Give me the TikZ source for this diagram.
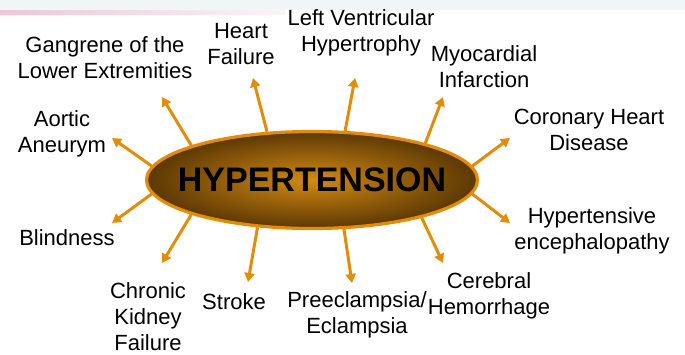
\documentclass[tikz,border=0pt]{standalone}
\usepackage{fontspec}
\setmainfont{Liberation Sans}
\usetikzlibrary{positioning, shapes.geometric, arrows.meta}
\definecolor{hyporange}{RGB}{226,140,8}
\definecolor{hyplight}{RGB}{212,138,18}
\definecolor{hypdark}{RGB}{92,56,4}
\definecolor{bandgrey}{RGB}{240,246,247}
\definecolor{bandpink}{RGB}{238,198,210}
\tikzset{hub/.style={ellipse, draw=hyporange, line width=1.6pt, inner color=hyplight, outer color=hypdark, inner sep=0pt, minimum width=165.5pt, minimum height=48.5pt},
hubtext/.style={inner sep=0pt, font=\fontsize{17}{20}\selectfont\bfseries},
cause/.style={align=center, inner sep=0pt, font=\fontsize{11}{13}\selectfont},
line/.style={hyporange, line width=1.5pt, -{Triangle[width=5pt,length=4.5pt]}}
}
\begin{document}
\begin{tikzpicture}[x=0.5pt, y=-0.5pt]
\useasboundingbox (0,0) rectangle (685,354);
% top band of the slide
\fill[bandgrey] (0,0) rectangle (685,10);
\fill[left color=bandpink, right color=bandpink!20!white] (0,10) rectangle (285,14);
\node[hub] (hyp) at (312,180) {};
\node[hubtext] (hyptext) at (hyp) {HYPERTENSION};
\node[cause] (gangrene) at (105,58) {Gangrene of the\\Lower Extremities};
\node[cause] (heartf) at (241,44) {Heart\\Failure};
\node[cause] (lvh) at (361,33) {Left Ventricular\\Hypertrophy};
\node[cause] (mi) at (484,67) {Myocardial\\Infarction};
\node[cause] (chd) at (589,130) {Coronary Heart\\Disease};
\node[cause] (aortic) at (62,134) {Aortic\\Aneurym};
\node[cause] (blind) at (67,238) {Blindness};
\node[cause] (enceph) at (592,231) {Hypertensive\\encephalopathy};
\node[cause] (ckd) at (148,317) {Chronic\\Kidney\\Failure};
\node[cause] (stroke) at (234,302) {Stroke};
\node[cause] (preecl) at (357,315) {Preeclampsia/\\Eclampsia};
\node[cause] (cereb) at (489,296) {Cerebral\\Hemorrhage};
 % arrow tips, each pointing at its label
\coordinate (tgang) at (162,97);
\coordinate (taort) at (112,138);
\coordinate (theart) at (253,78);
\coordinate (tlvh) at (355,78);
\coordinate (tmi) at (443,97);
\coordinate (tchd) at (510,138);
\coordinate (tenc) at (510,223);
\coordinate (tcer) at (443,263);
\coordinate (tpre) at (352,283);
\coordinate (tstr) at (248,282);
\coordinate (tckd) at (162,263);
\coordinate (tblind) at (112,223);
\draw[line] (hyp.164.9) -- (tgang);
\draw[line] (hyp.175.5) -- (taort);
\draw[line] (hyp.133.2) -- (theart);
\draw[line] (hyp.56.6) -- (tlvh);
\draw[line] (hyp.18.3) -- (tmi);
\draw[line] (hyp.5.2) -- (tchd);
\draw[line] (hyp.-5.2) -- (tenc);
\draw[line] (hyp.-19) -- (tcer);
\draw[line] (hyp.-57.1) -- (tpre);
\draw[line] (hyp.-139.1) -- (tstr);
\draw[line] (hyp.-164.9) -- (tckd);
\draw[line] (hyp.-175.5) -- (tblind);
\end{tikzpicture}
\end{document}
